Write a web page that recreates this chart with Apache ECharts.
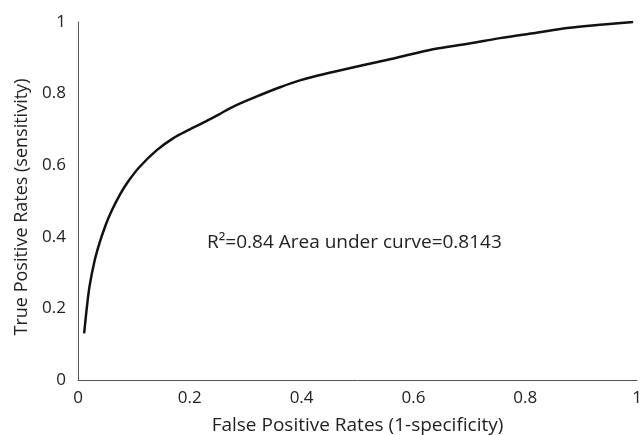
<!DOCTYPE html>
<html><head><meta charset="utf-8">
<script src="https://cdn.jsdelivr.net/npm/echarts@6/dist/echarts.min.js"></script>
<style>html,body{margin:0;padding:0;background:#fff}#c{width:644px;height:435px}</style>
</head><body><div id="c"></div>
<script>
const fpr = [0.011, 0.016, 0.021, 0.03, 0.039, 0.05, 0.06, 0.075, 0.09, 0.11, 0.141, 0.17, 0.2, 0.218, 0.25, 0.277, 0.32, 0.36, 0.397, 0.45, 0.517, 0.57, 0.635, 0.7, 0.755, 0.82, 0.875, 0.94, 0.993];
const tpr = [0.13, 0.205, 0.265, 0.335, 0.385, 0.435, 0.472, 0.518, 0.555, 0.595, 0.642, 0.675, 0.70, 0.714, 0.74, 0.763, 0.792, 0.817, 0.837, 0.858, 0.882, 0.9, 0.924, 0.94, 0.955, 0.97, 0.983, 0.993, 1.0];
const xTicks = [0, 0.2, 0.4, 0.6, 0.8, 1];
const yTicks = [0, 0.2, 0.4, 0.6, 0.8, 1];
const annotation = 'R\u00B2=0.84 Area under curve=0.8143';
const xName = 'False Positive Rates (1-specificity)';
const yName = 'True Positive Rates (sensitivity)';

const font = '"Open Sans", sans-serif';
const chart = echarts.init(document.getElementById('c'));
chart.setOption({
  animation: false,
  grid: {left: 78, right: 7, top: 22, bottom: 55, outerBoundsMode: 'none', containLabel: false},
  xAxis: {
    type: 'value', min: xTicks[0], max: xTicks[xTicks.length-1], interval: 0.2,
    name: xName, nameLocation: 'middle', nameGap: 36,
    nameTextStyle: {fontFamily: font, fontSize: 19, color: '#222'},
    axisLine: {show: true, lineStyle: {color: '#555', width: 1}},
    axisTick: {show: false},
    splitLine: {show: false},
    axisLabel: {fontFamily: font, fontSize: 17, color: '#222', margin: 10,
      formatter: v => String(+v.toFixed(1))}
  },
  yAxis: {
    type: 'value', min: yTicks[0], max: yTicks[yTicks.length-1], interval: 0.2,
    name: yName, nameLocation: 'middle', nameGap: 47,
    nameTextStyle: {fontFamily: font, fontSize: 18, color: '#222', padding: [0, 12, 0, 0]},
    axisLine: {show: true, lineStyle: {color: '#555', width: 1}},
    axisTick: {show: false},
    splitLine: {show: false},
    axisLabel: {fontFamily: font, fontSize: 17, color: '#222', margin: 12,
      formatter: v => String(+v.toFixed(1))}
  },
  series: [{
    type: 'line', smooth: 0.35, showSymbol: false,
    data: fpr.map((x, i) => [x, tpr[i]]),
    lineStyle: {color: '#111', width: 2.5}
  }],
  graphic: [{
    type: 'text', left: 207, top: 233,
    style: {text: annotation, fontFamily: font, fontSize: 19, fill: '#222'}
  }]
});
</script></body></html>
